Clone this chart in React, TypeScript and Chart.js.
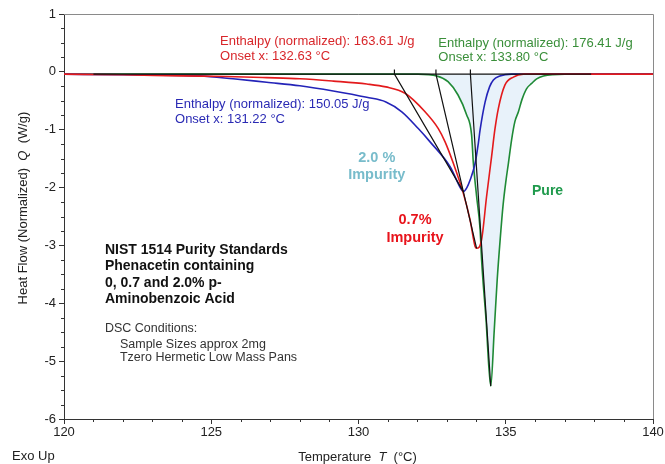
import React, { useEffect, useRef } from "react";
import { Chart, registerables } from "chart.js";

Chart.register(...registerables);

// ---------------- data ----------------
// 2.0 % impurity (blue)
const impurity20T = [120, 122, 124.62, 125.74, 126.88, 128.01, 129.14, 130.28, 130.93, 131.47, 132.03, 132.43, 133.11, 133.5, 133.56, 133.68, 133.79, 133.96, 134.07, 134.13, 134.3, 134.45, 134.58, 134.8, 135.2, 140];
const impurity20Q = [-0.04, -0.05, -0.07, -0.12, -0.18, -0.24, -0.33, -0.44, -0.52, -0.69, -0.98, -1.21, -1.64, -2.04, -2.07, -2.0, -1.87, -1.58, -1.23, -1.0, -0.52, -0.26, -0.14, -0.07, -0.04, -0.04];

// 0.7 % impurity (red)
const impurity07T = [120, 122, 124, 125.5, 126.88, 128.01, 129.14, 130.28, 130.93, 131.58, 132.26, 132.71, 132.94, 133.22, 133.56, 133.79, 133.96, 134.01, 134.18, 134.35, 134.52, 134.63, 134.75, 134.97, 135.26, 135.6, 140];
const impurity07Q = [-0.04, -0.05, -0.07, -0.08, -0.1, -0.12, -0.16, -0.21, -0.26, -0.37, -0.69, -0.98, -1.21, -1.58, -2.1, -2.56, -3.02, -3.05, -2.9, -2.15, -1.46, -1.0, -0.63, -0.23, -0.09, -0.04, -0.04];

// pure (green)
const pureT = [120, 132.02, 132.66, 133.04, 133.38, 133.67, 133.84, 133.9, 134.01, 134.13, 134.18, 134.33, 134.49, 134.61, 134.71, 134.81, 134.91, 135.01, 135.09, 135.2, 135.31, 135.43, 135.55, 135.71, 135.88, 136.05, 136.28, 137, 140];
const pureQ = [-0.04, -0.04, -0.07, -0.17, -0.4, -0.74, -1.09, -1.58, -2.15, -2.73, -3.25, -4.28, -5.43, -4.46, -3.59, -2.9, -2.3, -1.87, -1.58, -1.17, -0.86, -0.69, -0.48, -0.29, -0.2, -0.12, -0.07, -0.04, -0.04];

// onset tangents: onset temperature -> peak minimum  (order: 2.0 %, 0.7 %, pure)
const onsetT = [131.22, 132.63, 133.8];
const onsetTickQ = [0.04, -0.04];
const peakT = [133.56, 134.01, 134.49];
const peakQ = [-2.07, -3.05, -5.43];

// integration baseline
const baselineT = [121, 137.9];
const baselineQ = [-0.04, -0.04];

const fillLevel = -0.04;

// axis ranges / ticks
const xMin = 120, xMax = 140, xStep = 5, xMinorStep = 1;
const yMin = -6, yMax = 1, yStep = 1, yMinorStep = 0.25;

// ---------------- styling ----------------
const RED = "#e31a1c";
const BLUE = "#2323b8";
const GREEN = "#1f8a36";
const FONT = "Arial, 'Liberation Sans', sans-serif";

const notes = [
  { t: 125.3, q: 0.518, text: "Enthalpy (normalized): 163.61 J/g", color: "#d8262a", font: `13px ${FONT}`, align: "left" },
  { t: 125.3, q: 0.268, text: "Onset x: 132.63 °C", color: "#d8262a", font: `13px ${FONT}`, align: "left" },
  { t: 132.71, q: 0.484, text: "Enthalpy (normalized): 176.41 J/g", color: "#3a8f3a", font: `13px ${FONT}`, align: "left" },
  { t: 132.71, q: 0.242, text: "Onset x: 133.80 °C", color: "#3a8f3a", font: `13px ${FONT}`, align: "left" },
  { t: 123.77, q: -0.561, text: "Enthalpy (normalized): 150.05 J/g", color: "#2a2ab4", font: `13px ${FONT}`, align: "left" },
  { t: 123.77, q: -0.82, text: "Onset x: 131.22 °C", color: "#2a2ab4", font: `13px ${FONT}`, align: "left" },
  { t: 130.62, q: -1.485, text: "2.0 %", color: "#78bccb", font: `bold 14.5px ${FONT}`, align: "center" },
  { t: 130.62, q: -1.788, text: "Impurity", color: "#78bccb", font: `bold 14.5px ${FONT}`, align: "center" },
  { t: 131.92, q: -2.556, text: "0.7%", color: "#e8141c", font: `bold 14.5px ${FONT}`, align: "center" },
  { t: 131.92, q: -2.867, text: "Impurity", color: "#e8141c", font: `bold 14.5px ${FONT}`, align: "center" },
  { t: 136.42, q: -2.07, text: "Pure", color: "#1f9a4c", font: `bold 14px ${FONT}`, align: "center" },
  { t: 121.39, q: -3.074, text: "NIST 1514 Purity Standards", color: "#111", font: `bold 14px ${FONT}`, align: "left" },
  { t: 121.39, q: -3.359, text: "Phenacetin containing", color: "#111", font: `bold 14px ${FONT}`, align: "left" },
  { t: 121.39, q: -3.644, text: "0, 0.7 and 2.0% p-", color: "#111", font: `bold 14px ${FONT}`, align: "left" },
  { t: 121.39, q: -3.929, text: "Aminobenzoic Acid", color: "#111", font: `bold 14px ${FONT}`, align: "left" },
  { t: 121.39, q: -4.444, text: "DSC Conditions:", color: "#333", font: `12.5px ${FONT}`, align: "left" },
  { t: 121.9, q: -4.715, text: "Sample Sizes approx 2mg", color: "#333", font: `12.5px ${FONT}`, align: "left" },
  { t: 121.9, q: -4.945, text: "Tzero Hermetic Low Mass Pans", color: "#333", font: `12.5px ${FONT}`, align: "left" },
];

const pts = (xs: number[], ys: number[]) => xs.map((x, i) => ({ x, y: ys[i] }));

function drawMixed(ctx: CanvasRenderingContext2D, parts: [string, boolean][], cx: number, cy: number, size: number) {
  const fonts = parts.map(([, it]) => `${it ? "italic " : ""}${size}px ${FONT}`);
  let total = 0;
  const widths = parts.map(([s], i) => {
    ctx.font = fonts[i];
    const w = ctx.measureText(s).width;
    total += w;
    return w;
  });
  let x = cx - total / 2;
  ctx.textAlign = "left";
  ctx.textBaseline = "middle";
  parts.forEach(([s], i) => {
    ctx.font = fonts[i];
    ctx.fillText(s, x, cy);
    x += widths[i];
  });
}

const decorPlugin = {
  id: "decor",
  afterDatasetsDraw(chart: any) {
    const { ctx, chartArea, scales } = chart;
    const xs = scales.x, ys = scales.y;
    ctx.save();
    // top & right frame
    ctx.strokeStyle = "#8a8a8a";
    ctx.lineWidth = 1;
    ctx.beginPath();
    ctx.moveTo(chartArea.left, Math.round(chartArea.top) + 0.5);
    ctx.lineTo(Math.round(chartArea.right) + 0.5, Math.round(chartArea.top) + 0.5);
    ctx.lineTo(Math.round(chartArea.right) + 0.5, chartArea.bottom);
    ctx.stroke();
    // minor ticks
    ctx.strokeStyle = "#333";
    ctx.beginPath();
    for (let v = xMin + xMinorStep; v < xMax; v += xMinorStep) {
      if (Math.abs(v / xStep - Math.round(v / xStep)) < 1e-6) continue;
      const px = Math.round(xs.getPixelForValue(v)) + 0.5;
      ctx.moveTo(px, chartArea.bottom);
      ctx.lineTo(px, chartArea.bottom + 3);
    }
    for (let v = yMin + yMinorStep; v < yMax; v += yMinorStep) {
      if (Math.abs(v / yStep - Math.round(v / yStep)) < 1e-6) continue;
      const py = Math.round(ys.getPixelForValue(v)) + 0.5;
      ctx.moveTo(chartArea.left - 3, py);
      ctx.lineTo(chartArea.left, py);
    }
    ctx.stroke();
    // annotations
    for (const n of notes) {
      ctx.font = n.font;
      ctx.fillStyle = n.color;
      ctx.textAlign = n.align as CanvasTextAlign;
      ctx.textBaseline = "middle";
      ctx.fillText(n.text, xs.getPixelForValue(n.t), ys.getPixelForValue(n.q));
    }
    // axis titles
    ctx.fillStyle = "#222";
    drawMixed(ctx, [["Temperature  ", false], ["T", true], ["  (°C)", false]], (chartArea.left + chartArea.right) / 2 - 1, 457, 13);
    ctx.font = `13px ${FONT}`;
    ctx.textAlign = "left";
    ctx.textBaseline = "middle";
    ctx.fillText("Exo Up", 12, 456);
    ctx.save();
    ctx.translate(23, 208);
    ctx.rotate(-Math.PI / 2);
    drawMixed(ctx, [["Heat Flow (Normalized)  ", false], ["Q", true], ["  (W/g)", false]], 0, 0, 13);
    ctx.restore();
    ctx.restore();
  },
};

export default function App() {
  const ref = useRef<HTMLCanvasElement | null>(null);

  useEffect(() => {
    if (!ref.current) return;
    const curve = (data: any[], color: string, extra: any = {}) => ({
      data,
      borderColor: color,
      borderWidth: 1.6,
      pointRadius: 0,
      cubicInterpolationMode: "monotone",
      fill: false,
      ...extra,
    });
    const straight = (data: any[]) => ({
      data,
      borderColor: "#111",
      borderWidth: 1.2,
      pointRadius: 0,
      tension: 0,
      fill: false,
    });
    const tangents = onsetT.map((t, i) =>
      straight([
        { x: t, y: onsetTickQ[0] },
        { x: t, y: onsetTickQ[1] },
        { x: peakT[i], y: peakQ[i] },
      ])
    );
    const chart = new Chart(ref.current, {
      type: "line",
      data: {
        datasets: [
          straight(pts(baselineT, baselineQ)),
          ...tangents,
          curve(pts(impurity07T, impurity07Q), RED),
          curve(pts(impurity20T, impurity20Q), BLUE),
          curve(pts(pureT, pureQ), GREEN, { fill: { value: fillLevel }, backgroundColor: "#e8f2fa" }),
        ] as any,
      },
      options: {
        animation: false,
        responsive: false,
        devicePixelRatio: 1,
        layout: { padding: { left: 0, top: 14, right: 12, bottom: 0 } },
        plugins: {
          legend: { display: false },
          tooltip: { enabled: false },
          filler: { drawTime: "beforeDatasetsDraw" },
        } as any,
        scales: {
          x: {
            type: "linear",
            min: xMin,
            max: xMax,
            border: { color: "#333", width: 1 },
            grid: { display: true, drawOnChartArea: false, drawTicks: true, tickLength: 5, color: "#333" },
            ticks: { stepSize: xStep, padding: 1, color: "#222", font: { size: 13, family: FONT } },
            afterFit: (s: any) => { s.height = 45; },
          },
          y: {
            type: "linear",
            min: yMin,
            max: yMax,
            border: { color: "#333", width: 1 },
            grid: { display: true, drawOnChartArea: false, drawTicks: true, tickLength: 5, color: "#333" },
            ticks: { stepSize: yStep, padding: 3, color: "#222", font: { size: 13, family: FONT } },
            afterFit: (s: any) => { s.width = 64; },
          },
        },
      } as any,
      plugins: [decorPlugin],
    });
    return () => chart.destroy();
  }, []);

  return (
    <div style={{ position: "absolute", left: 0, top: 0, width: 665, height: 464, background: "#fff" }}>
      <canvas ref={ref} width={665} height={464} style={{ display: "block" }} />
    </div>
  );
}
